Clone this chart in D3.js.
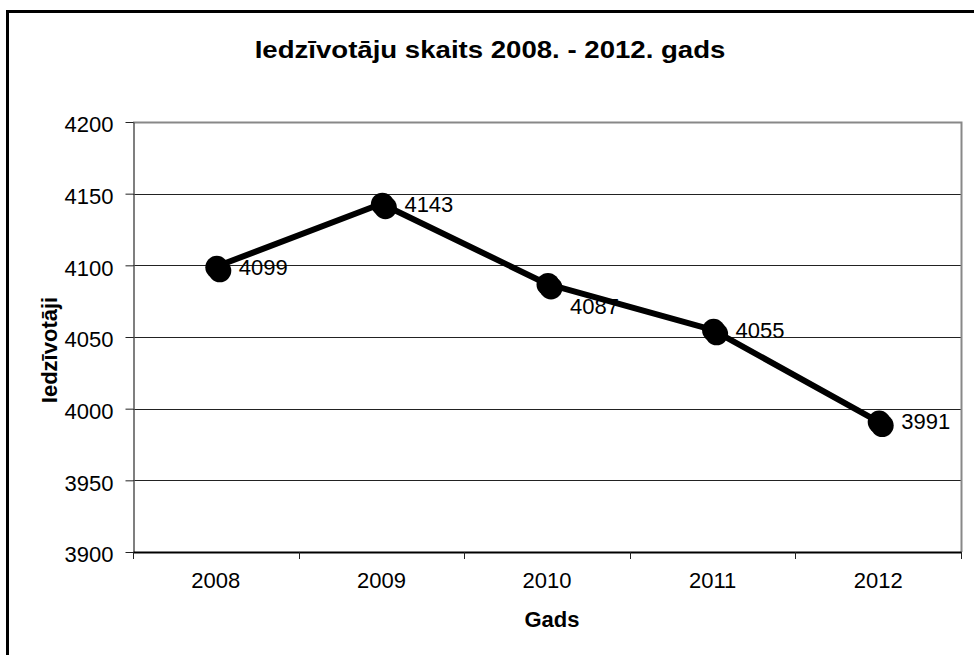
<html>
  <head>
    <meta charset="utf-8" />
    <script src="https://cdn.jsdelivr.net/npm/d3@7/dist/d3.min.js"></script>
    <style>
      * {
        margin: 0;
        padding: 0;
        box-sizing: border-box;
      }
      body {
        background: #fff;
        font-family: "Liberation Sans", Arial, sans-serif;
      }
      .title {
        font-size: 23px;
        font-weight: bold;
      }
      .axis-title {
        font-size: 22px;
        font-weight: bold;
      }
      .tick text,
      .point-label {
        font-size: 22px;
        fill: #000;
      }
    </style>
  </head>
  <body>
    <div id="chart"></div>
    <script>
      const years = ["2008", "2009", "2010", "2011", "2012"];
      const residents = [4099, 4143, 4087, 4055, 3991];
      const yTicks = [3900, 3950, 4000, 4050, 4100, 4150, 4200];

      const titleText = "Iedzīvotāju skaits 2008. - 2012. gads";
      const xTitle = "Gads";
      const yTitle = "Iedzīvotāji";

      const w = 974;
      const h = 655;
      const plot = { left: 133, right: 961, top: 122, bottom: 552 };

      const svg = d3
        .select("#chart")
        .append("svg")
        .attr("width", w)
        .attr("height", h);

      // outer frame (only left and top edges are inside the picture)
      svg
        .append("path")
        .attr("d", "M7.5," + h + "V11.5H" + w)
        .attr("fill", "none")
        .attr("stroke", "#000")
        .attr("stroke-width", 3);

      const x = d3
        .scaleBand()
        .domain(years)
        .range([plot.left, plot.right])
        .padding(0);

      const y = d3
        .scaleLinear()
        .domain([3900, 4200])
        .range([plot.bottom, plot.top]);

      // gridlines
      svg
        .append("g")
        .selectAll("line")
        .data(yTicks.filter((d) => d > 3900 && d < 4200))
        .enter()
        .append("line")
        .attr("x1", plot.left)
        .attr("x2", plot.right)
        .attr("y1", (d) => Math.round(y(d)) + 0.5)
        .attr("y2", (d) => Math.round(y(d)) + 0.5)
        .attr("stroke", "#222")
        .attr("stroke-width", 1);

      // plot area border top / right
      svg
        .append("path")
        .attr(
          "d",
          "M" + plot.left + "," + (plot.top + 0.5) + "H" + (plot.right + 0.5) + "V" + plot.bottom
        )
        .attr("fill", "none")
        .attr("stroke", "#888")
        .attr("stroke-width", 2);

      // y axis
      const yAxis = d3
        .axisLeft(y)
        .tickValues(yTicks)
        .tickSize(8)
        .tickSizeOuter(0)
        .tickPadding(12)
        .tickFormat(d3.format("d"));

      const gy = svg
        .append("g")
        .attr("transform", "translate(" + (plot.left + 0.5) + ",0)")
        .call(yAxis);
      gy.select(".domain").attr("stroke", "#555").attr("stroke-width", 1.5);
      gy.selectAll(".tick line").attr("stroke", "#222");
      gy.selectAll(".tick text").attr("dy", "0.45em").style("font-family", "inherit");

      // x axis
      const xAxis = d3.axisBottom(x).tickSize(0).tickSizeOuter(0).tickPadding(20);
      const gx = svg
        .append("g")
        .attr("transform", "translate(0," + plot.bottom + ")")
        .call(xAxis);
      gx.select(".domain").attr("stroke", "#000").attr("stroke-width", 2);
      gx.selectAll(".tick text").style("font-family", "inherit");

      // x ticks sit on category boundaries
      svg
        .append("g")
        .selectAll("line")
        .data(years.map((d) => x(d)).concat([plot.right]))
        .enter()
        .append("line")
        .attr("x1", (d) => Math.round(d) + 0.5)
        .attr("x2", (d) => Math.round(d) + 0.5)
        .attr("y1", plot.bottom)
        .attr("y2", plot.bottom + 7)
        .attr("stroke", "#222")
        .attr("stroke-width", 1);

      const cx = (d, i) => x(years[i]) + x.bandwidth() / 2;

      // series line
      const line = d3
        .line()
        .x((d, i) => cx(d, i))
        .y((d) => y(d));

      svg
        .append("path")
        .datum(residents)
        .attr("d", line)
        .attr("fill", "none")
        .attr("stroke", "#000")
        .attr("stroke-width", 6)
        .attr("stroke-linejoin", "round");

      // markers (with the little shadow offset of the original)
      const markers = svg.append("g");
      markers
        .selectAll("circle.shadow")
        .data(residents)
        .enter()
        .append("circle")
        .attr("class", "shadow")
        .attr("cx", (d, i) => cx(d, i) + 4)
        .attr("cy", (d) => y(d) + 4)
        .attr("r", 11.5)
        .attr("fill", "#000");
      markers
        .selectAll("circle.dot")
        .data(residents)
        .enter()
        .append("circle")
        .attr("class", "dot")
        .attr("cx", (d, i) => cx(d, i) + 1)
        .attr("cy", (d) => y(d) + 0.5)
        .attr("r", 11.5)
        .attr("fill", "#000");

      // data labels, the 2010 one was pushed down below the line
      const labelDrop = { 2010: 22 };
      svg
        .append("g")
        .selectAll("text")
        .data(residents)
        .enter()
        .append("text")
        .attr("class", "point-label")
        .attr("x", (d, i) => cx(d, i) + 23)
        .attr("y", (d, i) => y(d) + (labelDrop[years[i]] || 0))
        .attr("dy", "0.36em")
        .text((d) => d);

      // titles
      svg
        .append("text")
        .attr("class", "title")
        .attr("text-anchor", "middle")
        .attr("transform", "translate(490,58) scale(1.2,1)")
        .text(titleText);

      svg
        .append("text")
        .attr("class", "axis-title")
        .attr("text-anchor", "middle")
        .attr("x", 552)
        .attr("y", 627)
        .text(xTitle);

      svg
        .append("text")
        .attr("class", "axis-title")
        .attr("text-anchor", "middle")
        .attr("transform", "translate(57,350) rotate(-90)")
        .text(yTitle);
    </script>
  </body>
</html>
